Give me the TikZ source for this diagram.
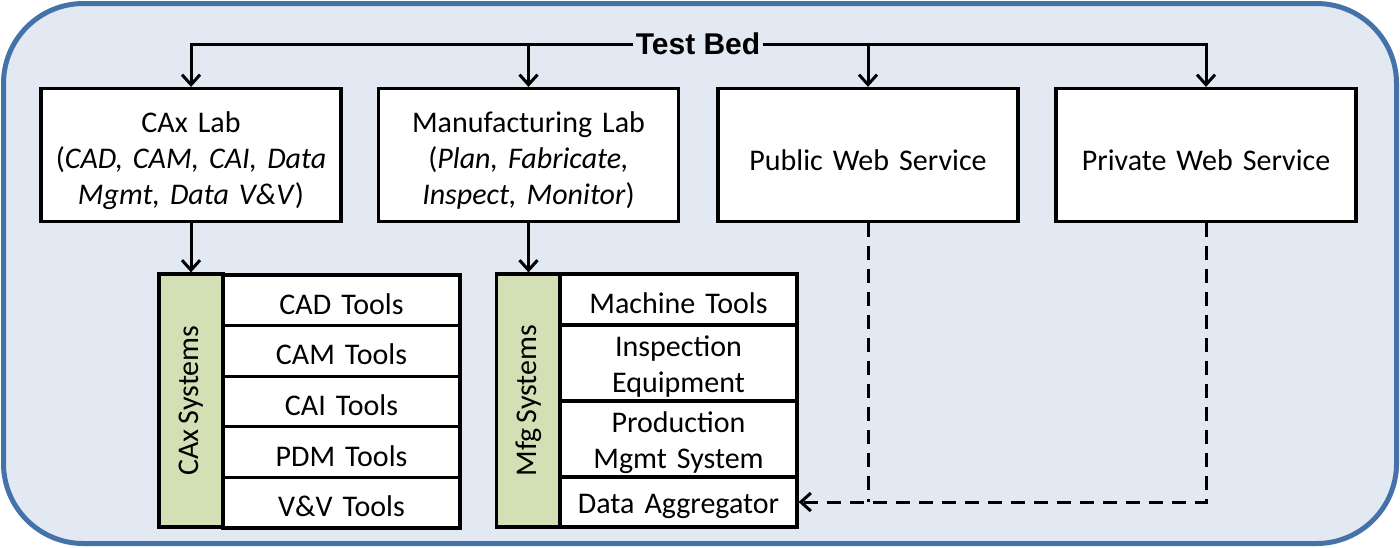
\documentclass[tikz,border=0pt]{standalone}
\usepackage{fontspec}
\setmainfont{Carlito}[WordSpace=0.75]
\newfontfamily\headfont{Liberation Sans}
\usetikzlibrary{arrows.meta}
\definecolor{bedblue}{RGB}{70,114,170}
\definecolor{bedfill}{RGB}{226,233,243}
\definecolor{sysgreen}{RGB}{211,223,181}

\begin{document}
\begin{tikzpicture}[x=0.5pt,y=-0.5pt]
    \tikzstyle{every node}=[font=\fontsize{15}{17.75}\selectfont]
    \tikzstyle{lab}=[draw,fill=white,line width=1.6pt,minimum width=150pt,
    minimum height=66.5pt,text width=148pt,align=center,inner sep=0pt,
    font=\fontsize{15}{18}\selectfont,execute at begin node=\rule{0pt}{16pt}]
    \tikzstyle{tool}=[draw,fill=white,line width=1.6pt,minimum width=118.5pt,
    text width=116pt,align=center,inner sep=0pt,
    execute at begin node=\rule{0pt}{14pt}]
    \tikzstyle{sys}=[draw,fill=sysgreen,line width=1.6pt,minimum width=126.5pt,
    minimum height=32pt,rotate=90,inner sep=0pt]
    \tikzstyle{arr}=[line width=1.5pt,-{Straight Barb[length=5pt,width=9pt]}]
    \tikzstyle{webline}=[line width=1.5pt,dash pattern=on 7pt off 4.5pt]

    \useasboundingbox (0,0) rectangle (1400,547);
    \draw[bedblue,fill=bedfill,line width=2.5pt,rounded corners=40pt]
    (3.5,3.5) rectangle (1396.5,543.5);

    \node[font=\headfont\bfseries\fontsize{15}{18}\selectfont,fill=bedfill,
    inner sep=1pt] (bed) at (698,44) {Test Bed};

    \node[lab] (caxlab) at (191,155) {CAx Lab\\(\textit{CAD, CAM, CAI, Data}\\
    \textit{Mgmt, Data V\&V})};
    \node[lab] (mfglab) at (528.5,155) {Manufacturing Lab\\(\textit{Plan,
    Fabricate,}\\\textit{Inspect, Monitor})};
    \node[lab] (publab) at (868,155) {Public Web Service};
    \node[lab] (privlab) at (1206,155) {Private Web Service};

    \node[sys] (caxsys) at (191,400.5) {CAx Systems};
    \foreach \t [count=\i] in {CAD,CAM,CAI,PDM,V\&V}
    \node[tool,minimum height=25.3pt] (cax\i) at (341.5,249.7+50.6*\i)
    {\t{} Tools};

    \node[sys] (mfgsys) at (528.5,400.5) {Mfg Systems};
    \node[tool,minimum height=25.5pt] (mfg1) at (678.5,299.5) {Machine Tools};
    \node[tool,minimum height=38pt] (mfg2) at (678.5,363) {Inspection\\
    Equipment};
    \node[tool,minimum height=38pt] (mfg3) at (678.5,439) {Production\\
    Mgmt System};
    \node[tool,minimum height=25pt] (mfg4) at (678.5,502) {Data Aggregator};

    \draw[arr] (bed) -| (caxlab);
    \draw[arr] (bed) -| (privlab);
    \draw[arr] (mfglab.north |- bed) -- (mfglab);
    \draw[arr] (publab.north |- bed) -- (publab);

    \draw[arr] (caxlab) -- (caxsys.east);
    \draw[arr] (mfglab) -- (mfgsys.east);

    \draw[webline] (publab) -- (publab.south |- mfg4.east);
    \draw[webline,-{Straight Barb[length=5pt,width=9pt]}] (privlab) |- (mfg4);
\end{tikzpicture}
\end{document}
